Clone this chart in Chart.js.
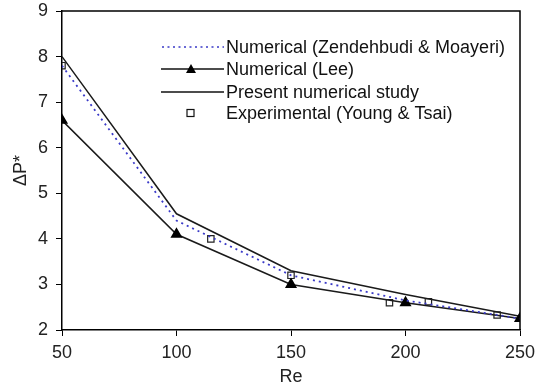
<!DOCTYPE html>
<html>
<head>
<meta charset="utf-8">
<script src="https://cdn.jsdelivr.net/npm/chart.js@4/dist/chart.umd.min.js"></script>
<style>
  html, body { margin: 0; padding: 0; background: #fff; }
  #wrap { width: 540px; height: 388px; position: relative; }
</style>
</head>
<body>
<div id="wrap"><canvas id="chart"></canvas></div>
<script>
// Re values and pressure drop values
const reNum = [50, 100, 150, 200, 250];
const zendehbudi = [7.8, 4.4, 3.2, 2.65, 2.25];
const lee = [6.6, 4.1, 3.0, 2.6, 2.25];
const present = [8.0, 4.55, 3.3, 2.78, 2.3];
const reExp = [50, 115, 150, 193, 210, 240];
const experimental = [7.8, 4.0, 3.2, 2.6, 2.62, 2.33];
const xTicks = [50, 100, 150, 200, 250];
const yTicks = [2, 3, 4, 5, 6, 7, 8, 9];

const legendItems = [
    { label: 'Numerical (Zendehbudi & Moayeri)', kind: 'dotted' },
    { label: 'Numerical (Lee)', kind: 'triangle' },
    { label: 'Present numerical study', kind: 'line' },
    { label: 'Experimental (Young & Tsai)', kind: 'square' }
];

function pts(xs, ys) {
    return xs.map((x, i) => ({ x: x, y: ys[i] }));
}

// frame + legend drawn on the canvas
const boxLegend = {
    id: 'boxLegend',
    afterDatasetsDraw(chart) {
        const ctx = chart.ctx;
        const a = chart.chartArea;
        ctx.save();
        ctx.strokeStyle = '#000';
        ctx.lineWidth = 1.5;
        ctx.beginPath();
        ctx.moveTo(a.left, a.top);
        ctx.lineTo(a.right, a.top);
        ctx.lineTo(a.right, a.bottom);
        ctx.stroke();

        ctx.font = '18px "Liberation Sans", Arial, sans-serif';
        ctx.fillStyle = '#111';
        ctx.textBaseline = 'middle';
        const x0 = 162, x1 = 224, tx = 226;
        const rows = [47, 69, 92, 113];
        legendItems.forEach((item, i) => {
            const y = rows[i];
            if (item.kind === 'dotted') {
                ctx.strokeStyle = '#3a3ac8';
                ctx.lineWidth = 1.6;
                ctx.setLineDash([2, 3.5]);
                ctx.beginPath(); ctx.moveTo(x0, y); ctx.lineTo(x1, y); ctx.stroke();
                ctx.setLineDash([]);
            } else if (item.kind === 'triangle' || item.kind === 'line') {
                ctx.strokeStyle = '#111';
                ctx.lineWidth = 1.5;
                ctx.beginPath(); ctx.moveTo(x0 - 1, y); ctx.lineTo(x1, y); ctx.stroke();
                if (item.kind === 'triangle') {
                    ctx.fillStyle = '#000';
                    ctx.beginPath();
                    ctx.moveTo(191, y - 5);
                    ctx.lineTo(196, y + 4);
                    ctx.lineTo(186, y + 4);
                    ctx.closePath();
                    ctx.fill();
                    ctx.fillStyle = '#111';
                }
            } else {
                ctx.strokeStyle = '#111';
                ctx.lineWidth = 1.2;
                ctx.strokeRect(187, y - 3.5, 7, 7);
            }
            ctx.fillText(item.label, tx, y + 1);
        });
        ctx.restore();
    }
};

const tickFont = { family: '"Liberation Sans", Arial, sans-serif', size: 18 };

new Chart(document.getElementById('chart'), {
    type: 'scatter',
    data: {
        datasets: [
            {
                label: 'Numerical (Zendehbudi & Moayeri)',
                data: pts(reNum, zendehbudi),
                showLine: true,
                borderColor: '#3a3ac8',
                borderWidth: 1.8,
                borderDash: [2, 4],
                pointRadius: 0,
                tension: 0
            },
            {
                label: 'Numerical (Lee)',
                data: pts(reNum, lee),
                showLine: true,
                borderColor: '#1a1a1a',
                borderWidth: 1.5,
                pointStyle: 'triangle',
                pointRadius: 5.5,
                pointBackgroundColor: '#000',
                pointBorderColor: '#000',
                tension: 0
            },
            {
                label: 'Present numerical study',
                data: pts(reNum, present),
                showLine: true,
                borderColor: '#1a1a1a',
                borderWidth: 1.5,
                pointRadius: 0,
                tension: 0
            },
            {
                label: 'Experimental (Young & Tsai)',
                data: pts(reExp, experimental),
                showLine: false,
                pointStyle: 'rect',
                pointRadius: 4.5,
                pointBackgroundColor: 'rgba(255,255,255,0)',
                pointBorderColor: '#222',
                pointBorderWidth: 1.2
            }
        ]
    },
    options: {
        responsive: true,
        maintainAspectRatio: false,
        animation: false,
        layout: { padding: { top: 11, right: 20, left: 0, bottom: 0 } },
        plugins: {
            legend: { display: false },
            tooltip: { enabled: false }
        },
        scales: {
            x: {
                type: 'linear',
                min: 50,
                max: 250,
                afterBuildTicks: axis => { axis.ticks = xTicks.map(v => ({ value: v })); },
                afterFit: axis => { axis.height = 58; axis.paddingLeft = 0; axis.paddingRight = 0; },
                grid: { drawOnChartArea: false, drawTicks: true, tickLength: 6, color: '#000' },
                border: { display: true, color: '#000', width: 1.5 },
                ticks: { color: '#222', font: tickFont, padding: 6, maxRotation: 0 },
                title: {
                    display: true,
                    text: 'Re',
                    color: '#222',
                    font: tickFont,
                    padding: { top: -4, bottom: 0 }
                }
            },
            y: {
                type: 'linear',
                min: 2,
                max: 9,
                afterBuildTicks: axis => { axis.ticks = yTicks.map(v => ({ value: v })); },
                afterFit: axis => { axis.width = 62; axis.paddingTop = 0; axis.paddingBottom = 0; },
                grid: { drawOnChartArea: false, drawTicks: true, tickLength: 6, color: '#000' },
                border: { display: true, color: '#000', width: 1.5 },
                ticks: { color: '#222', font: tickFont, padding: 8 },
                title: {
                    display: true,
                    text: 'ΔP*',
                    color: '#222',
                    font: tickFont,
                    padding: { top: 10, bottom: 0 }
                }
            }
        }
    },
    plugins: [boxLegend]
});
</script>
</body>
</html>
